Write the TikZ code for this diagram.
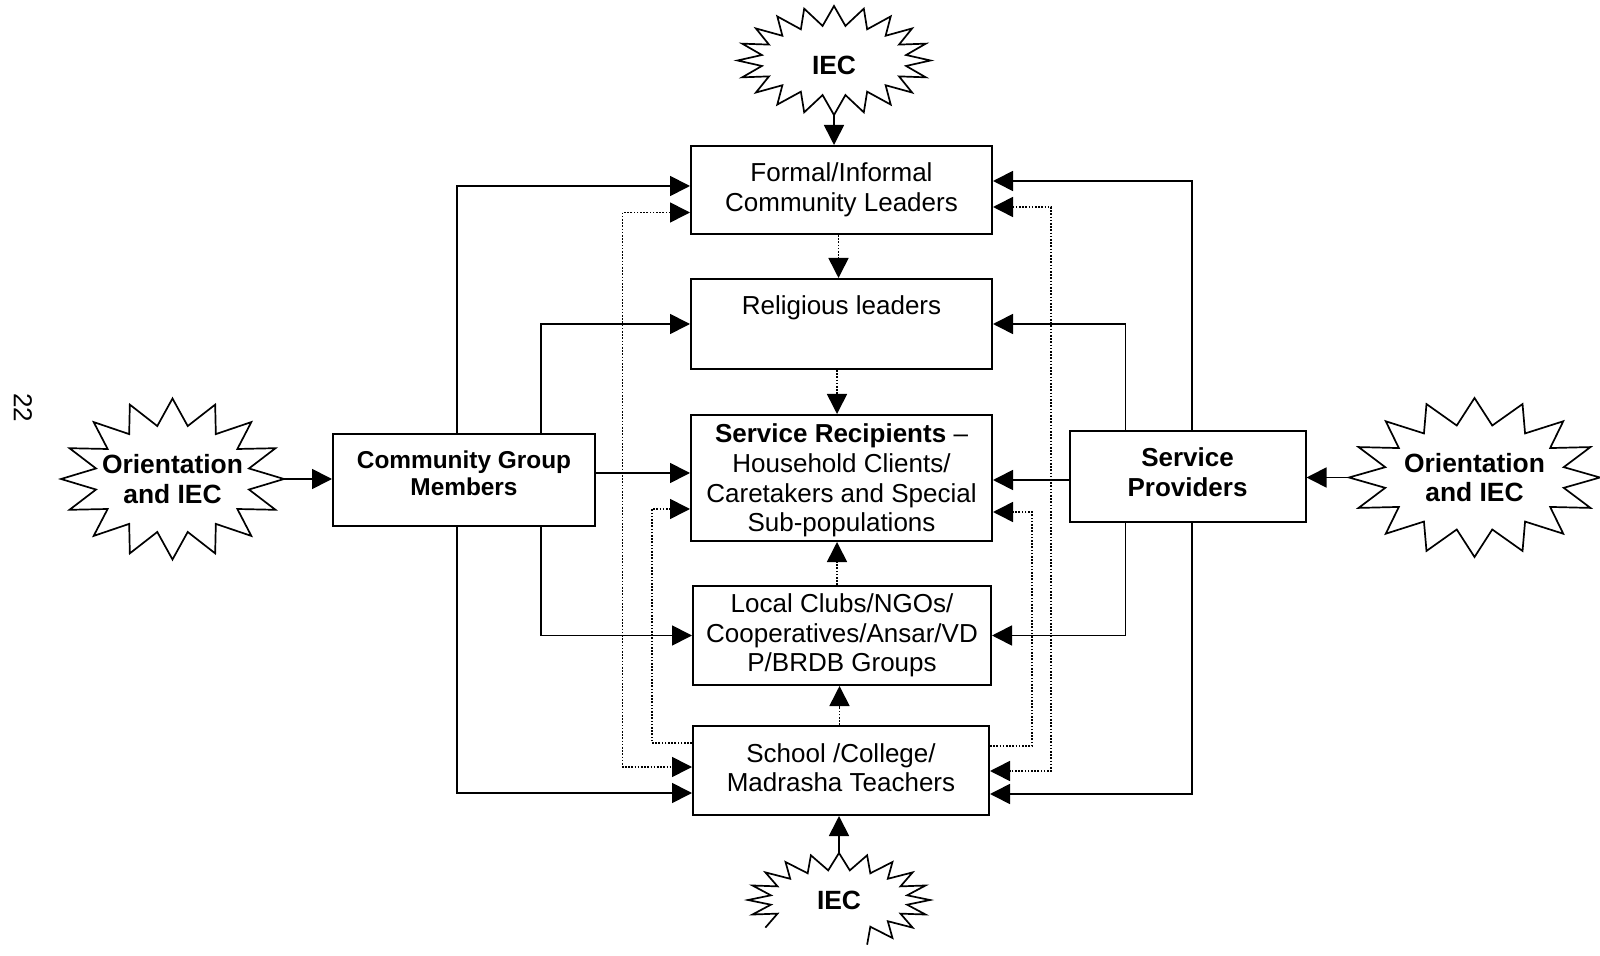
\documentclass[tikz,border=0pt]{standalone}
\usepackage{fontspec}
\setmainfont{Liberation Sans}
\usetikzlibrary{arrows.meta,calc}
% closed starburst: #1 node, #2 last index (2N-1), #3 angle step, #4 Rx, #5 Ry, #6 rx, #7 ry
\newcommand\burst[7]{%
  \begin{scope}[shift={(#1.center)}]
    \draw[burstline] plot[variable=\k, samples at={0,...,#2}]
      ({ifthenelse(isodd(\k),#6,#4)*cos(\k*#3)}, {ifthenelse(isodd(\k),#7,#5)*sin(\k*#3)}) -- cycle;
  \end{scope}}
% open starburst (only part of the outline): #2 list of indices
\newcommand\burstpart[7]{%
  \begin{scope}[shift={(#1.center)}]
    \draw[burstline] plot[variable=\k, samples at={#2}]
      ({ifthenelse(isodd(\k),#6,#4)*cos(\k*#3)}, {ifthenelse(isodd(\k),#7,#5)*sin(\k*#3)});
  \end{scope}}
\begin{document}
\begin{tikzpicture}[x=0.5pt,y=-0.5pt,
  box/.style={draw, line width=1pt, fill=white, align=center, inner sep=0pt,
    font=\fontsize{13}{14.8}\selectfont},
  bbox/.style={box, font=\bfseries\fontsize{12.2}{13.8}\selectfont},
  bboxb/.style={box, font=\bfseries\fontsize{13}{15.3}\selectfont},
  startext/.style={inner sep=0pt, align=center, font=\bfseries\fontsize{13.2}{14.8}\selectfont},
  burstline/.style={line width=0.85pt, line join=miter},
  arr/.style={line width=0.85pt, -{Triangle[length=10pt,width=10pt]}},
  dotln/.style={line width=0.8pt, dash pattern=on 0.8pt off 0.8pt},
  darr/.style={dotln, -{Triangle[length=10pt,width=10pt]}},
  ddarr/.style={dotln, {Triangle[length=10pt,width=10pt]}-{Triangle[length=10pt,width=10pt]}},
]
\useasboundingbox (0,0) rectangle (1600,956);
\clip (0,0) rectangle (1600,956);

% page number
\node[rotate=-90, font=\fontsize{13}{15}\selectfont, inner sep=0pt] (pg) at (23,407.5) {22};

% central boxes
\node[box, minimum width=150.5pt, minimum height=44pt] (fl) at (841.5,190) {Formal/Informal\\Community Leaders};
\node[box, minimum width=150.5pt, minimum height=45pt, text depth=19.4pt] (rl) at (841.5,324) {Religious leaders};
\node[box, minimum width=150.5pt, minimum height=63pt, text height=56.4pt] (sr) at (841.5,478) {\textbf{Service Recipients} –\\Household Clients/\\Caretakers and Special\\Sub-populations};
\node[box, minimum width=149pt, minimum height=49.5pt] (lc) at (842,635.5) {Local Clubs/NGOs/\\Cooperatives/Ansar/VD\\P/BRDB Groups};
\node[box, minimum width=148pt, minimum height=44.5pt, text depth=3pt] (sc) at (841,770.5) {School /College/\\Madrasha Teachers};

% side boxes
\node[bbox, minimum width=131pt, minimum height=46pt, text depth=7pt] (cgm) at (464,480) {Community Group\\Members};
\node[bboxb, minimum width=118pt, minimum height=45.5pt, text depth=4.5pt] (sp) at (1187.5,476.5) {Service\\Providers};

% starbursts
\node[startext, minimum width=111.5pt, minimum height=80.5pt] (ls) at (172.5,479) {Orientation\\and IEC};
\burst{ls}{31}{11.25}{111.5}{80.5}{78}{54}
\node[startext, minimum width=125.5pt, minimum height=79.5pt] (rs) at (1474.5,477.5) {Orientation\\and IEC};
\burst{rs}{31}{11.25}{125.5}{79.5}{91}{53}
\node[startext, minimum width=96.5pt, minimum height=54.5pt, text height=14.5pt] (it) at (834,60.5) {IEC};
\burst{it}{39}{9}{96.5}{54.5}{73}{35}
\node[startext, minimum width=91pt, minimum height=47pt] (ib) at (839,900) {IEC};
\burstpart{ib}{16,...,48}{9}{91}{47}{69}{30}

% IEC / orientation arrows
\draw[arr] (it.south) -- (it.south |- fl.north);
\draw[arr] (ib.north) -- (ib.north |- sc.south);
\draw[arr] (ls.east) -- (ls.east -| cgm.west);
\draw[arr] (rs.west) -- (rs.west -| sp.east);

% community group members
\draw[arr] ($(cgm.north)+(-7,0)$) |- ($(fl.west)+(0,-4)$);
\draw[arr] ($(cgm.north)+(77,0)$) |- (rl.west);
\draw[arr] ($(cgm.east)+(0,-7)$) -- ($(sr.west)+(0,-5)$);
\draw[arr] ($(cgm.south)+(77,0)$) |- (lc.west);
\draw[arr] ($(cgm.south)+(-7,0)$) |- ($(sc.west)+(0,22.5)$);

% service providers
\draw[arr] ($(sp.north)+(4.5,0)$) |- ($(fl.east)+(0,-9)$);
\draw[arr] ($(sp.north)+(-62,0)$) |- (rl.east);
\draw[arr] ($(sp.west)+(0,3.5)$) -- ($(sr.east)+(0,2)$);
\draw[arr] ($(sp.south)+(-62,0)$) |- (lc.east);
\draw[arr] ($(sp.south)+(4.5,0)$) |- ($(sc.east)+(0,23.5)$);

% dotted verticals
\draw[darr] ($(fl.south)+(-3,0)$) -- ($(rl.north)+(-3,0)$);
\draw[darr] ($(rl.south)+(-4.5,0)$) -- ($(sr.north)+(-4.5,0)$);
\draw[darr] ($(lc.north)+(-5,0)$) -- ($(sr.south)+(-4.5,0)$);
\draw[darr] ($(sc.north)+(-1.5,0)$) -- ($(lc.south)+(-2.5,0)$);

% dotted loops
\draw[ddarr] ($(fl.west)+(0,22.5)$) -- ++(-67.5,0) |- ($(sc.west)+(0,-3.5)$);
\draw[darr] ($(sc.west)+(0,-27.5)$) -- ++(-40,0) |- ($(sr.west)+(0,31)$);
\draw[ddarr] ($(fl.east)+(0,17)$) -- ++(58,0) |- ($(sc.east)+(0,0.5)$);
\draw[darr] ($(sc.east)+(0,-24.5)$) -- ++(42,0) |- ($(sr.east)+(0,34)$);
\end{tikzpicture}
\end{document}
